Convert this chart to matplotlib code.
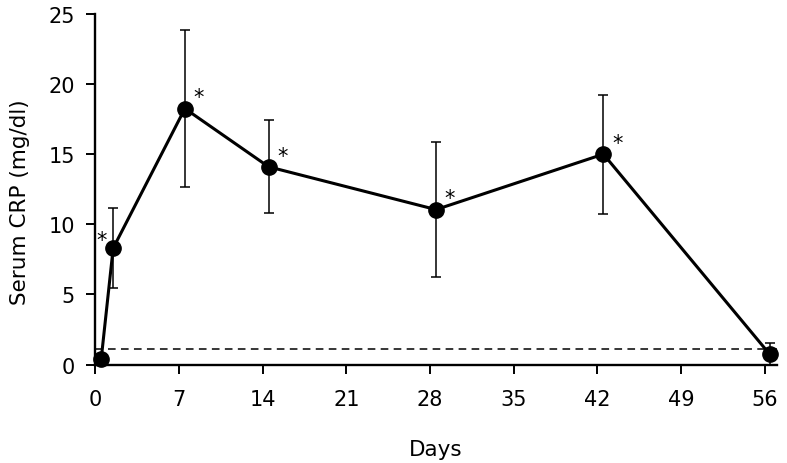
import matplotlib
matplotlib.use("Agg")
import matplotlib.pyplot as plt

days = [0.5, 1.5, 7.5, 14.5, 28.5, 42.5, 56.4]
crp_mean = [0.4, 8.3, 18.25, 14.1, 11.05, 15.0, 0.75]
crp_err = [0.3, 2.85, 5.6, 3.3, 4.8, 4.25, 0.8]
significant = [False, True, True, True, True, True, False]
reference_level = 1.1
x_ticks = [0, 7, 14, 21, 28, 35, 42, 49, 56]
y_ticks = [0, 5, 10, 15, 20, 25]

plt.rcParams['font.family'] = ['DejaVu Sans']
fig = plt.figure(figsize=(7.87, 4.64), dpi=100)
ax = fig.add_axes([0.121, 0.212, 0.866, 0.756])

ax.axhline(reference_level, color='black', lw=1.1, ls=(0, (5, 3.5)), zorder=1)
ax.errorbar(days, crp_mean, yerr=crp_err, fmt='none', ecolor='black',
            elinewidth=1.1, capsize=3.5, capthick=1.1, zorder=2)
ax.plot(days, crp_mean, color='black', lw=2.2, marker='o', ms=11,
        zorder=3, clip_on=False)

for i, (x, y, s) in enumerate(zip(days, crp_mean, significant)):
    if not s:
        continue
    off = (-8, 6) if i == 1 else (10, 8)
    ax.annotate('*', (x, y), xytext=off, textcoords='offset points',
                ha='center', va='center', fontsize=15)

ax.set_xlim(0, 57)
ax.set_ylim(0, 25)
ax.set_xticks(x_ticks)
ax.set_yticks(y_ticks)
ax.spines['top'].set_visible(False)
ax.spines['right'].set_visible(False)
for sp in ('left', 'bottom'):
    ax.spines[sp].set_linewidth(1.7)
ax.tick_params(axis='both', direction='out', length=6.5, width=1.4,
               labelsize=15)
ax.tick_params(axis='y', pad=8)
ax.tick_params(axis='x', pad=11)
ax.set_xlabel('Days', fontsize=15.5, labelpad=22)
ax.set_ylabel('Serum CRP (mg/dl)', fontsize=15.5)
ax.yaxis.set_label_coords(-0.095, 0.466)

fig.savefig('out.png', dpi=100)
